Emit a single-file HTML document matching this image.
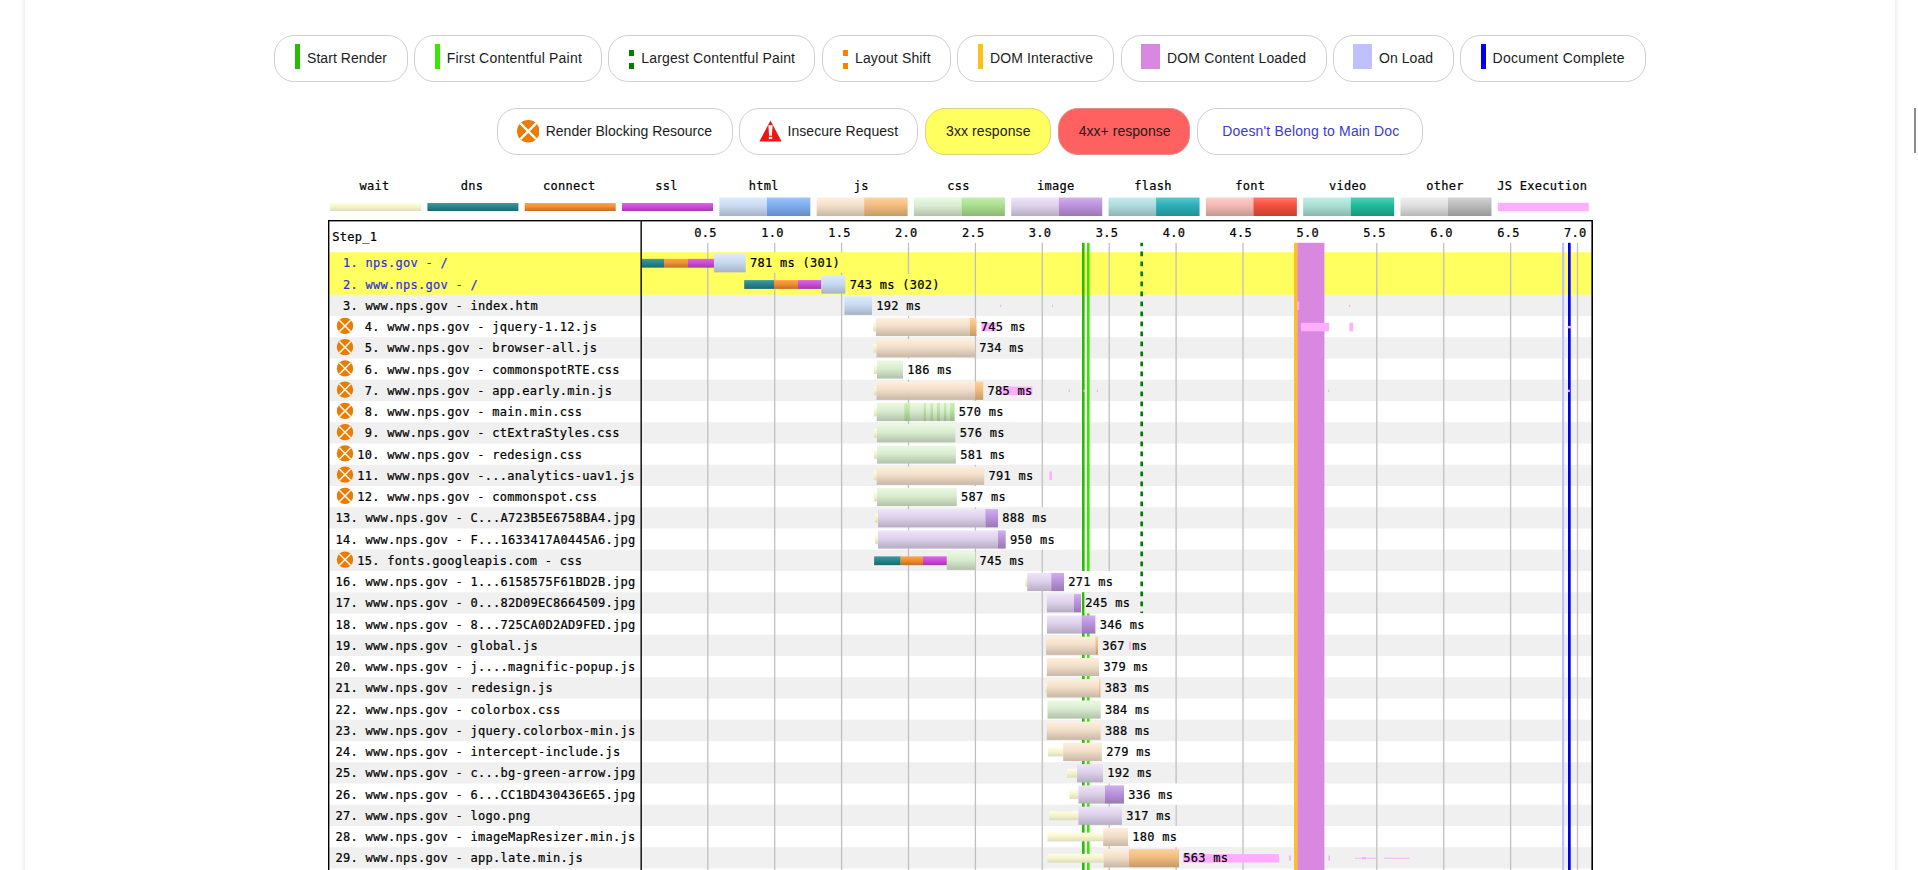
<!DOCTYPE html>
<html lang="en"><head><meta charset="utf-8"><title>WebPageTest Waterfall - nps.gov</title>
<style>
html,body{margin:0;padding:0;background:#fff;}
body{width:1918px;height:870px;overflow:hidden;position:relative;font-family:'Liberation Sans',sans-serif;}
#card{position:absolute;left:25px;top:-40px;width:1870px;height:1000px;background:#fff;box-shadow:0 0 6px rgba(0,0,0,.13);}
#thumb{position:absolute;left:1914px;top:108px;width:2px;height:45px;background:#8c8c8c;}
.pill{position:absolute;box-sizing:content-box;border:1px solid #cfcfcf;border-radius:20px;background:#fff;}
.pill i{position:absolute;display:block;}
.pill .ic{position:absolute;display:block;}
.pill span{position:absolute;top:0;line-height:44.5px;font-size:14px;white-space:pre;}
#wf{position:absolute;left:0;top:0;}
#wf text{font-family:'DejaVu Sans Mono','Liberation Mono',monospace;font-size:12px;letter-spacing:0.276px;white-space:pre;stroke-width:0.22px;paint-order:stroke;}
</style></head><body>
<div id="card"></div>
<div class="pill" style="left:274px;top:35px;width:132.00px;height:44.50px;"><i style="left:20px;top:8px;width:5px;height:25px;background:#28bc00"></i><span style="left:32.00px;letter-spacing:0.055px;color:#1c1c1c">Start Render</span></div>
<div class="pill" style="left:414.25px;top:35px;width:185.25px;height:44.50px;"><i style="left:20px;top:8px;width:5px;height:25px;background:#39e600"></i><span style="left:31.50px;letter-spacing:0.205px;color:#1c1c1c">First Contentful Paint</span></div>
<div class="pill" style="left:608px;top:35px;width:205.00px;height:44.50px;"><i style="left:20px;top:14px;width:5px;height:6px;background:#008000"></i><i style="left:20px;top:27px;width:5px;height:6px;background:#008000"></i><span style="left:32.25px;letter-spacing:0.154px;color:#1c1c1c">Largest Contentful Paint</span></div>
<div class="pill" style="left:822px;top:35px;width:126.50px;height:44.50px;"><i style="left:20px;top:14px;width:5px;height:6px;background:#ff8000"></i><i style="left:20px;top:27px;width:5px;height:6px;background:#ff8000"></i><span style="left:32.00px;letter-spacing:0.145px;color:#1c1c1c">Layout Shift</span></div>
<div class="pill" style="left:957px;top:35px;width:155.00px;height:44.50px;"><i style="left:20px;top:8px;width:5px;height:25px;background:#fcc21b"></i><span style="left:32.00px;letter-spacing:0.136px;color:#1c1c1c">DOM Interactive</span></div>
<div class="pill" style="left:1120.75px;top:35px;width:203.75px;height:44.50px;"><i style="left:19px;top:8px;width:19px;height:25px;background:#d888df"></i><span style="left:45.25px;letter-spacing:0.165px;color:#1c1c1c">DOM Content Loaded</span></div>
<div class="pill" style="left:1333.25px;top:35px;width:118.25px;height:44.50px;"><i style="left:19px;top:8px;width:19px;height:25px;background:#c0c0ff"></i><span style="left:44.75px;letter-spacing:0.050px;color:#1c1c1c">On Load</span></div>
<div class="pill" style="left:1460px;top:35px;width:183.50px;height:44.50px;"><i style="left:20px;top:8px;width:5px;height:25px;background:#0000ee"></i><span style="left:31.50px;letter-spacing:0.275px;color:#1c1c1c">Document Complete</span></div>
<div class="pill" style="left:497px;top:108px;width:233.50px;height:44.50px;"><svg class="ic" style="left:18.75px;top:11px" width="22.5" height="22.5" viewBox="0 0 20 20"><circle cx="10" cy="10" r="10" fill="#e87c04"/><path d="M3 3 L17 17 M17 3 L3 17" stroke="#fff" stroke-width="2" fill="none"/></svg><span style="left:47.75px;letter-spacing:-0.011px;color:#1c1c1c">Render Blocking Resource</span></div>
<div class="pill" style="left:739.25px;top:108px;width:176.75px;height:44.50px;"><svg class="ic" style="left:18.5px;top:11px" width="23" height="22" viewBox="0 0 23 22"><path d="M11.5 0.6 L22.6 21.4 L0.4 21.4 Z" fill="#f01414"/><path d="M9.4 5.2 L13.6 5.2 L12.9 15.7 L10.1 15.7 Z" fill="#fff"/><rect x="9.8" y="16.8" width="3.4" height="2.3" fill="#fff"/></svg><span style="left:47.25px;letter-spacing:0.053px;color:#1c1c1c">Insecure Request</span></div>
<div class="pill" style="left:925.4px;top:108px;width:123.30px;height:44.50px;background:#ffff60;border-color:#d6d67a;"><span style="left:19.60px;letter-spacing:0.109px;color:#1c1c1c">3xx response</span></div>
<div class="pill" style="left:1057.7px;top:108px;width:130.80px;height:44.50px;background:#ff6060;border-color:#e08a8a;"><span style="left:20.00px;letter-spacing:0.033px;color:#1c1c1c">4xx+ response</span></div>
<div class="pill" style="left:1197px;top:108px;width:223.60px;height:44.50px;"><span style="left:24.30px;letter-spacing:0.156px;color:#3a3acf">Doesn&#x27;t Belong to Main Doc</span></div>
<svg id="wf" width="1918" height="870" viewBox="0 0 1918 870" xml:space="preserve">
<defs><linearGradient id="gwait" x1="0" y1="0" x2="0" y2="1"><stop offset="0" stop-color="#fffee2"/><stop offset="0.45" stop-color="#f5f4cd"/><stop offset="1" stop-color="#deddba"/></linearGradient><linearGradient id="gdns" x1="0" y1="0" x2="0" y2="1"><stop offset="0" stop-color="#429aa1"/><stop offset="0.45" stop-color="#26858d"/><stop offset="1" stop-color="#1e686e"/></linearGradient><linearGradient id="gconnect" x1="0" y1="0" x2="0" y2="1"><stop offset="0" stop-color="#ffa34b"/><stop offset="0.45" stop-color="#f28e30"/><stop offset="1" stop-color="#bd6f25"/></linearGradient><linearGradient id="gssl" x1="0" y1="0" x2="0" y2="1"><stop offset="0" stop-color="#dc65e7"/><stop offset="0.45" stop-color="#cc4cd9"/><stop offset="1" stop-color="#9f3ba9"/></linearGradient><linearGradient id="ghtmlL" x1="0" y1="0" x2="0" y2="1"><stop offset="0" stop-color="#ddebfe"/><stop offset="0.45" stop-color="#c8daf1"/><stop offset="1" stop-color="#a5b3c6"/></linearGradient><linearGradient id="ghtml" x1="0" y1="0" x2="0" y2="1"><stop offset="0" stop-color="#9ec5fd"/><stop offset="0.45" stop-color="#7cacef"/><stop offset="1" stop-color="#658dc5"/></linearGradient><linearGradient id="gjsL" x1="0" y1="0" x2="0" y2="1"><stop offset="0" stop-color="#ffefdd"/><stop offset="0.45" stop-color="#f2dfc9"/><stop offset="1" stop-color="#c7b7a5"/></linearGradient><linearGradient id="gjs" x1="0" y1="0" x2="0" y2="1"><stop offset="0" stop-color="#fed29f"/><stop offset="0.45" stop-color="#f1bb7d"/><stop offset="1" stop-color="#c69a67"/></linearGradient><linearGradient id="gcssL" x1="0" y1="0" x2="0" y2="1"><stop offset="0" stop-color="#eafae2"/><stop offset="0.45" stop-color="#d9eccf"/><stop offset="1" stop-color="#b2c1aa"/></linearGradient><linearGradient id="gcss" x1="0" y1="0" x2="0" y2="1"><stop offset="0" stop-color="#c3efac"/><stop offset="0.45" stop-color="#a9de8d"/><stop offset="1" stop-color="#8bb773"/></linearGradient><linearGradient id="gimageL" x1="0" y1="0" x2="0" y2="1"><stop offset="0" stop-color="#efe4f9"/><stop offset="0.45" stop-color="#ded1eb"/><stop offset="1" stop-color="#b7acc1"/></linearGradient><linearGradient id="gimage" x1="0" y1="0" x2="0" y2="1"><stop offset="0" stop-color="#d1b0ed"/><stop offset="0.45" stop-color="#ba92dc"/><stop offset="1" stop-color="#9978b5"/></linearGradient><linearGradient id="gflashL" x1="0" y1="0" x2="0" y2="1"><stop offset="0" stop-color="#c6ecee"/><stop offset="0.45" stop-color="#addadd"/><stop offset="1" stop-color="#8eb3b6"/></linearGradient><linearGradient id="gflash" x1="0" y1="0" x2="0" y2="1"><stop offset="0" stop-color="#5bc7cf"/><stop offset="0.45" stop-color="#2baeb7"/><stop offset="1" stop-color="#238f97"/></linearGradient><linearGradient id="gfontL" x1="0" y1="0" x2="0" y2="1"><stop offset="0" stop-color="#ffcfca"/><stop offset="0.45" stop-color="#f2b8b2"/><stop offset="1" stop-color="#c79792"/></linearGradient><linearGradient id="gfont" x1="0" y1="0" x2="0" y2="1"><stop offset="0" stop-color="#ff7868"/><stop offset="0.45" stop-color="#f24e3b"/><stop offset="1" stop-color="#c74030"/></linearGradient><linearGradient id="gvideoL" x1="0" y1="0" x2="0" y2="1"><stop offset="0" stop-color="#c2efe5"/><stop offset="0.45" stop-color="#a8ded3"/><stop offset="1" stop-color="#8ab7ad"/></linearGradient><linearGradient id="gvideo" x1="0" y1="0" x2="0" y2="1"><stop offset="0" stop-color="#52cfb6"/><stop offset="0.45" stop-color="#1fb89a"/><stop offset="1" stop-color="#1a977e"/></linearGradient><linearGradient id="gotherL" x1="0" y1="0" x2="0" y2="1"><stop offset="0" stop-color="#efefef"/><stop offset="0.45" stop-color="#dedede"/><stop offset="1" stop-color="#b7b7b7"/></linearGradient><linearGradient id="gother" x1="0" y1="0" x2="0" y2="1"><stop offset="0" stop-color="#d1d1d1"/><stop offset="0.45" stop-color="#bababa"/><stop offset="1" stop-color="#999999"/></linearGradient></defs>
<rect x="330.10" y="203.00" width="91.00" height="8.00" fill="url(#gwait)"/>
<text x="359.60" y="189.60" fill="#000" stroke="#000">wait</text>
<rect x="427.41" y="203.00" width="91.00" height="8.00" fill="url(#gdns)"/>
<text x="460.66" y="189.60" fill="#000" stroke="#000">dns</text>
<rect x="524.72" y="203.00" width="91.00" height="8.00" fill="url(#gconnect)"/>
<text x="542.97" y="189.60" fill="#000" stroke="#000">connect</text>
<rect x="622.02" y="203.00" width="91.00" height="8.00" fill="url(#gssl)"/>
<text x="655.27" y="189.60" fill="#000" stroke="#000">ssl</text>
<rect x="719.33" y="197.50" width="47.50" height="18.50" fill="url(#ghtmlL)"/>
<rect x="766.83" y="197.50" width="43.50" height="18.50" fill="url(#ghtml)"/>
<text x="748.83" y="189.60" fill="#000" stroke="#000">html</text>
<rect x="816.64" y="197.50" width="47.50" height="18.50" fill="url(#gjsL)"/>
<rect x="864.14" y="197.50" width="43.50" height="18.50" fill="url(#gjs)"/>
<text x="853.64" y="189.60" fill="#000" stroke="#000">js</text>
<rect x="913.95" y="197.50" width="47.50" height="18.50" fill="url(#gcssL)"/>
<rect x="961.45" y="197.50" width="43.50" height="18.50" fill="url(#gcss)"/>
<text x="947.20" y="189.60" fill="#000" stroke="#000">css</text>
<rect x="1011.25" y="197.50" width="47.50" height="18.50" fill="url(#gimageL)"/>
<rect x="1058.75" y="197.50" width="43.50" height="18.50" fill="url(#gimage)"/>
<text x="1037.00" y="189.60" fill="#000" stroke="#000">image</text>
<rect x="1108.56" y="197.50" width="47.50" height="18.50" fill="url(#gflashL)"/>
<rect x="1156.06" y="197.50" width="43.50" height="18.50" fill="url(#gflash)"/>
<text x="1134.31" y="189.60" fill="#000" stroke="#000">flash</text>
<rect x="1205.87" y="197.50" width="47.50" height="18.50" fill="url(#gfontL)"/>
<rect x="1253.37" y="197.50" width="43.50" height="18.50" fill="url(#gfont)"/>
<text x="1235.37" y="189.60" fill="#000" stroke="#000">font</text>
<rect x="1303.18" y="197.50" width="47.50" height="18.50" fill="url(#gvideoL)"/>
<rect x="1350.68" y="197.50" width="43.50" height="18.50" fill="url(#gvideo)"/>
<text x="1328.93" y="189.60" fill="#000" stroke="#000">video</text>
<rect x="1400.48" y="197.50" width="47.50" height="18.50" fill="url(#gotherL)"/>
<rect x="1447.98" y="197.50" width="43.50" height="18.50" fill="url(#gother)"/>
<text x="1426.23" y="189.60" fill="#000" stroke="#000">other</text>
<rect x="1497.79" y="202.80" width="91.00" height="8.40" fill="#ffadff"/>
<text x="1497.29" y="189.60" fill="#000" stroke="#000">JS Execution</text>
<rect x="329.00" y="252.25" width="1263.00" height="42.70" fill="#ffff60"/>
<rect x="329.00" y="294.75" width="1263.00" height="21.25" fill="#f0f0f0"/>
<rect x="329.00" y="337.25" width="1263.00" height="21.25" fill="#f0f0f0"/>
<rect x="329.00" y="379.75" width="1263.00" height="21.25" fill="#f0f0f0"/>
<rect x="329.00" y="422.25" width="1263.00" height="21.25" fill="#f0f0f0"/>
<rect x="329.00" y="464.75" width="1263.00" height="21.25" fill="#f0f0f0"/>
<rect x="329.00" y="507.25" width="1263.00" height="21.25" fill="#f0f0f0"/>
<rect x="329.00" y="549.75" width="1263.00" height="21.25" fill="#f0f0f0"/>
<rect x="329.00" y="592.25" width="1263.00" height="21.25" fill="#f0f0f0"/>
<rect x="329.00" y="634.75" width="1263.00" height="21.25" fill="#f0f0f0"/>
<rect x="329.00" y="677.25" width="1263.00" height="21.25" fill="#f0f0f0"/>
<rect x="329.00" y="719.75" width="1263.00" height="21.25" fill="#f0f0f0"/>
<rect x="329.00" y="762.25" width="1263.00" height="21.25" fill="#f0f0f0"/>
<rect x="329.00" y="804.75" width="1263.00" height="21.25" fill="#f0f0f0"/>
<rect x="329.00" y="847.25" width="1263.00" height="21.25" fill="#f0f0f0"/>
<rect x="329.00" y="889.75" width="1263.00" height="21.25" fill="#f0f0f0"/>
<rect x="707.15" y="242.80" width="1.30" height="637.20" fill="#c0c0c0"/>
<text x="694.35" y="237.20" fill="#000" stroke="#000">0.5</text>
<rect x="774.05" y="242.80" width="1.30" height="637.20" fill="#c0c0c0"/>
<text x="761.25" y="237.20" fill="#000" stroke="#000">1.0</text>
<rect x="840.95" y="242.80" width="1.30" height="637.20" fill="#c0c0c0"/>
<text x="828.15" y="237.20" fill="#000" stroke="#000">1.5</text>
<rect x="907.85" y="242.80" width="1.30" height="637.20" fill="#c0c0c0"/>
<text x="895.05" y="237.20" fill="#000" stroke="#000">2.0</text>
<rect x="974.75" y="242.80" width="1.30" height="637.20" fill="#c0c0c0"/>
<text x="961.95" y="237.20" fill="#000" stroke="#000">2.5</text>
<rect x="1041.65" y="242.80" width="1.30" height="637.20" fill="#c0c0c0"/>
<text x="1028.85" y="237.20" fill="#000" stroke="#000">3.0</text>
<rect x="1108.55" y="242.80" width="1.30" height="637.20" fill="#c0c0c0"/>
<text x="1095.75" y="237.20" fill="#000" stroke="#000">3.5</text>
<rect x="1175.45" y="242.80" width="1.30" height="637.20" fill="#c0c0c0"/>
<text x="1162.65" y="237.20" fill="#000" stroke="#000">4.0</text>
<rect x="1242.35" y="242.80" width="1.30" height="637.20" fill="#c0c0c0"/>
<text x="1229.55" y="237.20" fill="#000" stroke="#000">4.5</text>
<rect x="1309.25" y="242.80" width="1.30" height="637.20" fill="#c0c0c0"/>
<text x="1296.45" y="237.20" fill="#000" stroke="#000">5.0</text>
<rect x="1376.15" y="242.80" width="1.30" height="637.20" fill="#c0c0c0"/>
<text x="1363.35" y="237.20" fill="#000" stroke="#000">5.5</text>
<rect x="1443.05" y="242.80" width="1.30" height="637.20" fill="#c0c0c0"/>
<text x="1430.25" y="237.20" fill="#000" stroke="#000">6.0</text>
<rect x="1509.95" y="242.80" width="1.30" height="637.20" fill="#c0c0c0"/>
<text x="1497.15" y="237.20" fill="#000" stroke="#000">6.5</text>
<rect x="1576.85" y="242.80" width="1.30" height="637.20" fill="#c0c0c0"/>
<text x="1564.05" y="237.20" fill="#000" stroke="#000">7.0</text>
<rect x="1297.20" y="242.80" width="27.20" height="637.20" fill="#d888df"/>
<rect x="1294.00" y="242.80" width="3.20" height="637.20" fill="#fcc21b"/>
<rect x="1562.00" y="242.80" width="2.20" height="637.20" fill="#c0c0ff"/>
<rect x="1568.00" y="242.80" width="2.70" height="637.20" fill="#0000ee"/>
<rect x="1082.00" y="242.80" width="2.60" height="637.20" fill="#28bc00"/>
<rect x="1087.00" y="242.80" width="2.60" height="637.20" fill="#39e600"/>
<line x1="1141.7" y1="242.8" x2="1141.7" y2="613.2" stroke="#008000" stroke-width="2.7" stroke-dasharray="4.8 5.2" stroke-dashoffset="1.3"/>
<rect x="641.30" y="258.85" width="22.70" height="8.80" fill="url(#gdns)"/>
<rect x="664.00" y="258.85" width="24.00" height="8.80" fill="url(#gconnect)"/>
<rect x="688.00" y="258.85" width="26.00" height="8.80" fill="url(#gssl)"/>
<rect x="714.00" y="254.15" width="31.70" height="18.20" fill="url(#ghtmlL)"/>
<rect x="749.30" y="252.25" width="94.70" height="20.75" fill="#ffff60"/>
<text x="750.00" y="267.35" fill="#000" stroke="#000">781 ms (301)</text>
<text x="335.50" y="267.35" fill="#3232d2" stroke="#3232d2"> 1. nps.gov - /</text>
<rect x="744.20" y="280.10" width="29.80" height="8.80" fill="url(#gdns)"/>
<rect x="774.00" y="280.10" width="24.00" height="8.80" fill="url(#gconnect)"/>
<rect x="798.00" y="280.10" width="23.30" height="8.80" fill="url(#gssl)"/>
<rect x="821.30" y="275.40" width="24.10" height="18.20" fill="url(#ghtmlL)"/>
<rect x="849.00" y="274.00" width="94.70" height="20.75" fill="#ffff60"/>
<text x="849.70" y="288.60" fill="#000" stroke="#000">743 ms (302)</text>
<text x="335.50" y="288.60" fill="#3232d2" stroke="#3232d2"> 2. www.nps.gov - /</text>
<rect x="844.40" y="296.65" width="27.60" height="18.20" fill="url(#ghtmlL)"/>
<rect x="875.60" y="294.75" width="49.70" height="21.25" fill="#f0f0f0"/>
<rect x="1297.20" y="301.55" width="2.00" height="8.50" fill="#ffadff"/>
<rect x="1000.00" y="304.65" width="1.30" height="2.40" fill="#ffadff"/>
<rect x="1349.00" y="304.65" width="1.30" height="2.40" fill="#ffadff"/>
<rect x="1052.00" y="304.65" width="1.00" height="2.40" fill="#ffadff"/>
<text x="876.30" y="309.85" fill="#000" stroke="#000">192 ms</text>
<text x="335.50" y="309.85" fill="#000" stroke="#000"> 3. www.nps.gov - index.htm</text>
<rect x="873.20" y="322.60" width="3.80" height="8.80" fill="url(#gwait)"/>
<rect x="875.90" y="317.90" width="93.80" height="18.20" fill="url(#gjsL)"/>
<rect x="969.70" y="317.90" width="6.80" height="18.20" fill="url(#gjs)"/>
<rect x="980.10" y="316.00" width="49.70" height="21.25" fill="#ffffff"/>
<rect x="981.40" y="322.80" width="14.50" height="8.50" fill="#ffadff"/>
<rect x="1300.90" y="322.80" width="28.30" height="8.50" fill="#ffadff"/>
<rect x="1349.40" y="322.80" width="3.60" height="8.50" fill="#ffadff"/>
<rect x="1567.50" y="325.90" width="4.00" height="2.40" fill="#ffadff"/>
<text x="980.80" y="331.10" fill="#000" stroke="#000">745 ms</text>
<text x="357.20" y="331.10" fill="#000" stroke="#000"> 4. www.nps.gov - jquery-1.12.js</text>
<g transform="translate(345 325.90)"><circle r="8.2" fill="#e87c04"/><path d="M-5.7 -5.7 L5.7 5.7 M5.7 -5.7 L-5.7 5.7" stroke="#fff3e2" stroke-width="1.5" fill="none"/></g>
<rect x="873.50" y="343.85" width="4.50" height="8.80" fill="url(#gwait)"/>
<rect x="876.50" y="339.15" width="98.50" height="18.20" fill="url(#gjsL)"/>
<rect x="978.60" y="337.25" width="49.70" height="21.25" fill="#f0f0f0"/>
<text x="979.30" y="352.35" fill="#000" stroke="#000">734 ms</text>
<text x="357.20" y="352.35" fill="#000" stroke="#000"> 5. www.nps.gov - browser-all.js</text>
<g transform="translate(345 347.15)"><circle r="8.2" fill="#e87c04"/><path d="M-5.7 -5.7 L5.7 5.7 M5.7 -5.7 L-5.7 5.7" stroke="#fff3e2" stroke-width="1.5" fill="none"/></g>
<rect x="873.80" y="365.10" width="4.20" height="8.80" fill="url(#gwait)"/>
<rect x="877.00" y="360.40" width="26.00" height="18.20" fill="url(#gcssL)"/>
<rect x="906.60" y="358.50" width="49.70" height="21.25" fill="#ffffff"/>
<text x="907.30" y="373.60" fill="#000" stroke="#000">186 ms</text>
<text x="357.20" y="373.60" fill="#000" stroke="#000"> 6. www.nps.gov - commonspotRTE.css</text>
<g transform="translate(345 368.40)"><circle r="8.2" fill="#e87c04"/><path d="M-5.7 -5.7 L5.7 5.7 M5.7 -5.7 L-5.7 5.7" stroke="#fff3e2" stroke-width="1.5" fill="none"/></g>
<rect x="873.80" y="386.35" width="4.20" height="8.80" fill="url(#gwait)"/>
<rect x="876.50" y="381.65" width="98.70" height="18.20" fill="url(#gjsL)"/>
<rect x="975.20" y="381.65" width="8.00" height="18.20" fill="url(#gjs)"/>
<rect x="986.80" y="379.75" width="49.70" height="21.25" fill="#f0f0f0"/>
<rect x="999.30" y="386.55" width="33.10" height="8.50" fill="#ffadff"/>
<rect x="1068.50" y="389.65" width="1.50" height="2.40" fill="#ffadff"/>
<rect x="1083.60" y="389.65" width="1.40" height="2.40" fill="#ffadff"/>
<rect x="1096.60" y="389.65" width="1.40" height="2.40" fill="#ffadff"/>
<rect x="1328.00" y="389.65" width="1.40" height="2.40" fill="#ffadff"/>
<rect x="1568.00" y="389.65" width="1.80" height="2.40" fill="#ffadff"/>
<text x="987.50" y="394.85" fill="#000" stroke="#000">785 ms</text>
<text x="357.20" y="394.85" fill="#000" stroke="#000"> 7. www.nps.gov - app.early.min.js</text>
<g transform="translate(345 389.65)"><circle r="8.2" fill="#e87c04"/><path d="M-5.7 -5.7 L5.7 5.7 M5.7 -5.7 L-5.7 5.7" stroke="#fff3e2" stroke-width="1.5" fill="none"/></g>
<rect x="873.80" y="407.60" width="4.20" height="8.80" fill="url(#gwait)"/>
<rect x="876.80" y="402.90" width="77.70" height="18.20" fill="url(#gcssL)"/>
<rect x="958.10" y="401.00" width="49.70" height="21.25" fill="#ffffff"/>
<text x="958.80" y="416.10" fill="#000" stroke="#000">570 ms</text>
<text x="357.20" y="416.10" fill="#000" stroke="#000"> 8. www.nps.gov - main.min.css</text>
<g transform="translate(345 410.90)"><circle r="8.2" fill="#e87c04"/><path d="M-5.7 -5.7 L5.7 5.7 M5.7 -5.7 L-5.7 5.7" stroke="#fff3e2" stroke-width="1.5" fill="none"/></g>
<rect x="873.80" y="428.85" width="4.20" height="8.80" fill="url(#gwait)"/>
<rect x="877.00" y="424.15" width="78.40" height="18.20" fill="url(#gcssL)"/>
<rect x="959.00" y="422.25" width="49.70" height="21.25" fill="#f0f0f0"/>
<text x="959.70" y="437.35" fill="#000" stroke="#000">576 ms</text>
<text x="357.20" y="437.35" fill="#000" stroke="#000"> 9. www.nps.gov - ctExtraStyles.css</text>
<g transform="translate(345 432.15)"><circle r="8.2" fill="#e87c04"/><path d="M-5.7 -5.7 L5.7 5.7 M5.7 -5.7 L-5.7 5.7" stroke="#fff3e2" stroke-width="1.5" fill="none"/></g>
<rect x="873.80" y="450.10" width="4.20" height="8.80" fill="url(#gwait)"/>
<rect x="877.00" y="445.40" width="78.90" height="18.20" fill="url(#gcssL)"/>
<rect x="959.50" y="443.50" width="49.70" height="21.25" fill="#ffffff"/>
<text x="960.20" y="458.60" fill="#000" stroke="#000">581 ms</text>
<text x="357.20" y="458.60" fill="#000" stroke="#000">10. www.nps.gov - redesign.css</text>
<g transform="translate(345 453.40)"><circle r="8.2" fill="#e87c04"/><path d="M-5.7 -5.7 L5.7 5.7 M5.7 -5.7 L-5.7 5.7" stroke="#fff3e2" stroke-width="1.5" fill="none"/></g>
<rect x="873.80" y="471.35" width="4.20" height="8.80" fill="url(#gwait)"/>
<rect x="876.70" y="466.65" width="107.50" height="18.20" fill="url(#gjsL)"/>
<rect x="987.80" y="464.75" width="49.70" height="21.25" fill="#f0f0f0"/>
<rect x="1049.40" y="471.55" width="2.60" height="8.50" fill="#ffadff"/>
<text x="988.50" y="479.85" fill="#000" stroke="#000">791 ms</text>
<text x="357.20" y="479.85" fill="#000" stroke="#000">11. www.nps.gov -...analytics-uav1.js</text>
<g transform="translate(345 474.65)"><circle r="8.2" fill="#e87c04"/><path d="M-5.7 -5.7 L5.7 5.7 M5.7 -5.7 L-5.7 5.7" stroke="#fff3e2" stroke-width="1.5" fill="none"/></g>
<rect x="873.80" y="492.60" width="4.20" height="8.80" fill="url(#gwait)"/>
<rect x="877.00" y="487.90" width="79.80" height="18.20" fill="url(#gcssL)"/>
<rect x="960.40" y="486.00" width="49.70" height="21.25" fill="#ffffff"/>
<text x="961.10" y="501.10" fill="#000" stroke="#000">587 ms</text>
<text x="357.20" y="501.10" fill="#000" stroke="#000">12. www.nps.gov - commonspot.css</text>
<g transform="translate(345 495.90)"><circle r="8.2" fill="#e87c04"/><path d="M-5.7 -5.7 L5.7 5.7 M5.7 -5.7 L-5.7 5.7" stroke="#fff3e2" stroke-width="1.5" fill="none"/></g>
<rect x="875.00" y="513.85" width="4.00" height="8.80" fill="url(#gwait)"/>
<rect x="878.00" y="509.15" width="107.40" height="18.20" fill="url(#gimageL)"/>
<rect x="985.40" y="509.15" width="12.60" height="18.20" fill="url(#gimage)"/>
<rect x="1001.60" y="507.25" width="49.70" height="21.25" fill="#f0f0f0"/>
<text x="1002.30" y="522.35" fill="#000" stroke="#000">888 ms</text>
<text x="335.50" y="522.35" fill="#000" stroke="#000">13. www.nps.gov - C...A723B5E6758BA4.jpg</text>
<rect x="875.00" y="535.10" width="4.00" height="8.80" fill="url(#gwait)"/>
<rect x="878.00" y="530.40" width="120.00" height="18.20" fill="url(#gimageL)"/>
<rect x="998.00" y="530.40" width="7.70" height="18.20" fill="url(#gimage)"/>
<rect x="1009.30" y="528.50" width="49.70" height="21.25" fill="#ffffff"/>
<text x="1010.00" y="543.60" fill="#000" stroke="#000">950 ms</text>
<text x="335.50" y="543.60" fill="#000" stroke="#000">14. www.nps.gov - F...1633417A0445A6.jpg</text>
<rect x="874.10" y="556.35" width="26.60" height="8.80" fill="url(#gdns)"/>
<rect x="900.70" y="556.35" width="22.30" height="8.80" fill="url(#gconnect)"/>
<rect x="923.00" y="556.35" width="25.00" height="8.80" fill="url(#gssl)"/>
<rect x="946.70" y="551.65" width="28.60" height="18.20" fill="url(#gcssL)"/>
<rect x="978.90" y="549.75" width="49.70" height="21.25" fill="#f0f0f0"/>
<text x="979.60" y="564.85" fill="#000" stroke="#000">745 ms</text>
<text x="357.20" y="564.85" fill="#000" stroke="#000">15. fonts.googleapis.com - css</text>
<g transform="translate(345 559.65)"><circle r="8.2" fill="#e87c04"/><path d="M-5.7 -5.7 L5.7 5.7 M5.7 -5.7 L-5.7 5.7" stroke="#fff3e2" stroke-width="1.5" fill="none"/></g>
<rect x="1025.50" y="577.60" width="2.50" height="8.80" fill="url(#gwait)"/>
<rect x="1027.20" y="572.90" width="24.00" height="18.20" fill="url(#gimageL)"/>
<rect x="1051.20" y="572.90" width="12.80" height="18.20" fill="url(#gimage)"/>
<rect x="1067.60" y="571.00" width="49.70" height="21.25" fill="#ffffff"/>
<text x="1068.30" y="586.10" fill="#000" stroke="#000">271 ms</text>
<text x="335.50" y="586.10" fill="#000" stroke="#000">16. www.nps.gov - 1...6158575F61BD2B.jpg</text>
<rect x="1046.90" y="594.15" width="27.10" height="18.20" fill="url(#gimageL)"/>
<rect x="1074.00" y="594.15" width="7.00" height="18.20" fill="url(#gimage)"/>
<rect x="1084.60" y="592.25" width="49.70" height="21.25" fill="#f0f0f0"/>
<text x="1085.30" y="607.35" fill="#000" stroke="#000">245 ms</text>
<text x="335.50" y="607.35" fill="#000" stroke="#000">17. www.nps.gov - 0...82D09EC8664509.jpg</text>
<rect x="1046.90" y="615.40" width="34.60" height="18.20" fill="url(#gimageL)"/>
<rect x="1081.50" y="615.40" width="13.90" height="18.20" fill="url(#gimage)"/>
<rect x="1099.00" y="613.50" width="49.70" height="21.25" fill="#ffffff"/>
<text x="1099.70" y="628.60" fill="#000" stroke="#000">346 ms</text>
<text x="335.50" y="628.60" fill="#000" stroke="#000">18. www.nps.gov - 8...725CA0D2AD9FED.jpg</text>
<rect x="1046.00" y="636.65" width="49.40" height="18.20" fill="url(#gjsL)"/>
<rect x="1095.40" y="636.65" width="2.60" height="18.20" fill="url(#gjs)"/>
<rect x="1101.60" y="634.75" width="49.70" height="21.25" fill="#f0f0f0"/>
<rect x="1129.00" y="641.55" width="2.00" height="8.50" fill="#ffadff"/>
<text x="1102.30" y="649.85" fill="#000" stroke="#000">367 ms</text>
<text x="335.50" y="649.85" fill="#000" stroke="#000">19. www.nps.gov - global.js</text>
<rect x="1046.80" y="657.90" width="52.30" height="18.20" fill="url(#gjsL)"/>
<rect x="1102.70" y="656.00" width="49.70" height="21.25" fill="#ffffff"/>
<text x="1103.40" y="671.10" fill="#000" stroke="#000">379 ms</text>
<text x="335.50" y="671.10" fill="#000" stroke="#000">20. www.nps.gov - j....magnific-popup.js</text>
<rect x="1045.50" y="683.85" width="2.50" height="8.80" fill="url(#gwait)"/>
<rect x="1046.80" y="679.15" width="52.40" height="18.20" fill="url(#gjsL)"/>
<rect x="1099.20" y="679.15" width="1.20" height="18.20" fill="url(#gjs)"/>
<rect x="1104.00" y="677.25" width="49.70" height="21.25" fill="#f0f0f0"/>
<text x="1104.70" y="692.35" fill="#000" stroke="#000">383 ms</text>
<text x="335.50" y="692.35" fill="#000" stroke="#000">21. www.nps.gov - redesign.js</text>
<rect x="1047.50" y="700.40" width="53.20" height="18.20" fill="url(#gcssL)"/>
<rect x="1104.30" y="698.50" width="49.70" height="21.25" fill="#ffffff"/>
<text x="1105.00" y="713.60" fill="#000" stroke="#000">384 ms</text>
<text x="335.50" y="713.60" fill="#000" stroke="#000">22. www.nps.gov - colorbox.css</text>
<rect x="1046.80" y="721.65" width="53.90" height="18.20" fill="url(#gjsL)"/>
<rect x="1104.30" y="719.75" width="49.70" height="21.25" fill="#f0f0f0"/>
<text x="1105.00" y="734.85" fill="#000" stroke="#000">388 ms</text>
<text x="335.50" y="734.85" fill="#000" stroke="#000">23. www.nps.gov - jquery.colorbox-min.js</text>
<rect x="1048.00" y="747.60" width="15.20" height="8.80" fill="url(#gwait)"/>
<rect x="1063.20" y="742.90" width="38.70" height="18.20" fill="url(#gjsL)"/>
<rect x="1105.50" y="741.00" width="49.70" height="21.25" fill="#ffffff"/>
<text x="1106.20" y="756.10" fill="#000" stroke="#000">279 ms</text>
<text x="335.50" y="756.10" fill="#000" stroke="#000">24. www.nps.gov - intercept-include.js</text>
<rect x="1067.00" y="768.85" width="10.00" height="8.80" fill="url(#gwait)"/>
<rect x="1077.00" y="764.15" width="26.00" height="18.20" fill="url(#gimageL)"/>
<rect x="1106.60" y="762.25" width="49.70" height="21.25" fill="#f0f0f0"/>
<text x="1107.30" y="777.35" fill="#000" stroke="#000">192 ms</text>
<text x="335.50" y="777.35" fill="#000" stroke="#000">25. www.nps.gov - c...bg-green-arrow.jpg</text>
<rect x="1069.50" y="790.10" width="8.90" height="8.80" fill="url(#gwait)"/>
<rect x="1078.40" y="785.40" width="26.60" height="18.20" fill="url(#gimageL)"/>
<rect x="1105.00" y="785.40" width="19.00" height="18.20" fill="url(#gimage)"/>
<rect x="1127.60" y="783.50" width="49.70" height="21.25" fill="#ffffff"/>
<text x="1128.30" y="798.60" fill="#000" stroke="#000">336 ms</text>
<text x="335.50" y="798.60" fill="#000" stroke="#000">26. www.nps.gov - 6...CC1BD430436E65.jpg</text>
<rect x="1049.30" y="811.35" width="29.10" height="8.80" fill="url(#gwait)"/>
<rect x="1078.40" y="806.65" width="43.60" height="18.20" fill="url(#gimageL)"/>
<rect x="1125.60" y="804.75" width="49.70" height="21.25" fill="#f0f0f0"/>
<text x="1126.30" y="819.85" fill="#000" stroke="#000">317 ms</text>
<text x="335.50" y="819.85" fill="#000" stroke="#000">27. www.nps.gov - logo.png</text>
<rect x="1047.50" y="832.60" width="55.70" height="8.80" fill="url(#gwait)"/>
<rect x="1103.20" y="827.90" width="24.80" height="18.20" fill="url(#gjsL)"/>
<rect x="1131.60" y="826.00" width="49.70" height="21.25" fill="#ffffff"/>
<text x="1132.30" y="841.10" fill="#000" stroke="#000">180 ms</text>
<text x="335.50" y="841.10" fill="#000" stroke="#000">28. www.nps.gov - imageMapResizer.min.js</text>
<rect x="1047.50" y="853.85" width="56.20" height="8.80" fill="url(#gwait)"/>
<rect x="1103.70" y="849.15" width="25.30" height="18.20" fill="url(#gjsL)"/>
<rect x="1129.00" y="849.15" width="50.00" height="18.20" fill="url(#gjs)"/>
<rect x="1182.60" y="847.25" width="49.70" height="21.25" fill="#f0f0f0"/>
<rect x="1183.00" y="854.05" width="96.00" height="8.50" fill="#ffadff"/>
<rect x="1289.00" y="855.65" width="2.00" height="5.00" fill="#ffadff"/>
<rect x="1328.30" y="855.65" width="1.70" height="5.00" fill="#ffadff"/>
<text x="1183.30" y="862.35" fill="#000" stroke="#000">563 ms</text>
<text x="335.50" y="862.35" fill="#000" stroke="#000">29. www.nps.gov - app.late.min.js</text>
<rect x="904.40" y="402.90" width="5.30" height="18.20" fill="url(#gcss)" opacity="0.75"/>
<rect x="923.70" y="402.90" width="2.30" height="18.20" fill="url(#gcss)" opacity="0.75"/>
<rect x="930.50" y="402.90" width="2.50" height="18.20" fill="url(#gcss)" opacity="0.75"/>
<rect x="937.00" y="402.90" width="3.00" height="18.20" fill="url(#gcss)" opacity="0.75"/>
<rect x="944.00" y="402.90" width="2.30" height="18.20" fill="url(#gcss)" opacity="0.75"/>
<rect x="950.00" y="402.90" width="4.50" height="18.20" fill="url(#gcss)" opacity="0.75"/>
<rect x="1355.00" y="857.65" width="22.00" height="1.20" fill="#ffadff" opacity="0.8"/>
<rect x="1384.00" y="857.65" width="26.00" height="1.20" fill="#ffadff" opacity="0.8"/>
<rect x="1362.00" y="857.05" width="4.00" height="2.40" fill="#ffadff"/>
<text x="332.30" y="241.10" fill="#000" stroke="#000">Step_1</text>
<rect x="328.00" y="220.00" width="1265.00" height="1.40" fill="#000"/>
<rect x="328.00" y="220.00" width="1.40" height="660.00" fill="#000"/>
<rect x="1591.40" y="220.00" width="1.60" height="660.00" fill="#000"/>
<rect x="640.40" y="220.00" width="1.60" height="660.00" fill="#222"/>
</svg>
<div id="thumb"></div>
</body></html>
